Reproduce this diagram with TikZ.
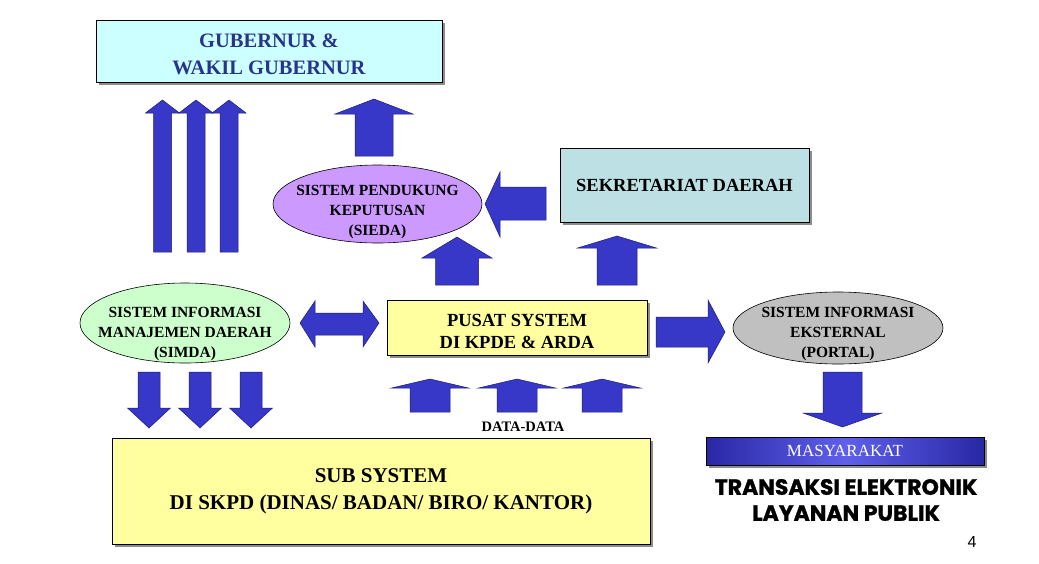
\documentclass[tikz,border=0pt]{standalone}
\usepackage{fontspec}
\setmainfont{Liberation Serif}
\newfontfamily\arialfont{Liberation Sans}
\newfontfamily\heavyfont{Poppins}[BoldFeatures={FakeBold=1.2}]
\usetikzlibrary{shapes.geometric,shadows}
\definecolor{arrowblue}{RGB}{55,55,200}
\definecolor{arrowedge}{RGB}{30,30,120}
\definecolor{gubfill}{RGB}{204,255,255}
\definecolor{gubtext}{RGB}{40,52,140}
\definecolor{sekfill}{RGB}{188,224,228}
\definecolor{yelfill}{RGB}{255,255,160}
\definecolor{siedafill}{RGB}{204,153,255}
\definecolor{simdafill}{RGB}{204,255,204}
\definecolor{portalfill}{RGB}{192,192,192}
\definecolor{masydark}{RGB}{40,40,165}
\definecolor{masylight}{RGB}{95,95,235}
\tikzset{
  box/.style={draw=black, line width=0.8pt, rectangle, inner sep=0pt, align=center,
    font=\bfseries, drop shadow={shadow xshift=3pt, shadow yshift=-3pt, fill=black!45, opacity=1}},
  oval/.style={draw=black, line width=0.6pt, ellipse, inner sep=0pt},
  ovaltext/.style={inner sep=0pt, align=center, font=\bfseries\fontsize{15.5}{20}\selectfont},
  blockarrow/.style={fill=arrowblue, draw=arrowedge, line width=0.5pt, line join=miter},
  plain/.style={inner sep=0pt, align=center}
}
\newcommand\uparrowshape[6]{%
  \filldraw[blockarrow] (#1,#2) -- ({#1+#5},#3) -- ({#1+#6},#3) -- ({#1+#6},#4)
    -- ({#1-#6},#4) -- ({#1-#6},#3) -- ({#1-#5},#3) -- cycle;}
\newcommand\downarrowshape[6]{%
  \filldraw[blockarrow] ({#1-#6},#2) -- ({#1+#6},#2) -- ({#1+#6},#3) -- ({#1+#5},#3)
    -- (#1,#4) -- ({#1-#5},#3) -- ({#1-#6},#3) -- cycle;}
\begin{document}
\begin{tikzpicture}[x=1pt,y=-1pt]
\useasboundingbox (0,0) rectangle (1039,563);
\fill[white] (0,0) rectangle (1039,563);

% boxes
\node[box, fill=gubfill, minimum width=346pt, minimum height=62pt] (gub) at (269,51) {};
\node[plain, text=gubtext, font=\bfseries\fontsize{20.5}{27}\selectfont, yshift=-3pt] (gubtxt) at (gub.center) {GUBERNUR \&\\WAKIL GUBERNUR};
\node[box, fill=sekfill, minimum width=249pt, minimum height=74pt,
  font=\bfseries\fontsize{18.5}{22}\selectfont] (sek) at (684.5,185) {SEKRETARIAT DAERAH};
\node[box, fill=yelfill, minimum width=260pt, minimum height=55pt] (pusat) at (517,327.5) {};
\node[plain, font=\bfseries\fontsize{18.5}{22}\selectfont, yshift=-4pt] (pusattxt) at (pusat.center) {PUSAT SYSTEM\\DI KPDE \& ARDA};
\node[box, fill=yelfill, minimum width=538pt, minimum height=106pt,
  font=\bfseries\fontsize{21}{27}\selectfont] (sub) at (381,491) {SUB SYSTEM\\DI SKPD (DINAS/ BADAN/ BIRO/ KANTOR)};
\node[box, left color=masydark, right color=masydark, middle color=masylight, text=white,
  minimum width=278pt, minimum height=28pt,
  font=\fontsize{17}{20}\selectfont] (masy) at (845,451) {MASYARAKAT};

% ellipses
\node[oval, fill=siedafill, minimum width=209pt, minimum height=78pt] (sieda) at (377.5,204) {};
\node[ovaltext, yshift=-8pt] (siedatxt) at (sieda.center) {SISTEM PENDUKUNG\\KEPUTUSAN\\(SIEDA)};
\node[oval, fill=simdafill, minimum width=210pt, minimum height=80pt] (simda) at (185,323) {};
\node[ovaltext, yshift=-11pt] (simdatxt) at (simda.center) {SISTEM INFORMASI\\MANAJEMEN DAERAH\\(SIMDA)};
\node[oval, fill=portalfill, minimum width=210pt, minimum height=72pt] (portal) at (838,328) {};
\node[ovaltext, yshift=-6pt] (portaltxt) at (portal.center) {SISTEM INFORMASI\\EKSTERNAL\\(PORTAL)};

% labels
\node[plain, font=\bfseries\fontsize{14.5}{17}\selectfont] (data) at (523,427) {DATA-DATA};
\node[plain, font=\heavyfont\bfseries\fontsize{22}{26}\selectfont] (trans) at (846,500) {TRANSAKSI ELEKTRONIK\\LAYANAN PUBLIK};
\node[plain, font=\arialfont\fontsize{16}{18}\selectfont] (pnum) at (972,542) {4};

% block arrows
\uparrowshape{162.5}{100}{113}{252}{17}{9}
\uparrowshape{196}{100}{113}{252}{17}{9}
\uparrowshape{229}{100}{113}{252}{17}{9}
\uparrowshape{374}{99}{114}{156}{39}{19}
\uparrowshape{457}{237}{258}{285}{35}{21.5}
\uparrowshape{617}{236}{248}{285}{39.5}{20}
\uparrowshape{430}{379}{388}{412}{38.5}{20}
\uparrowshape{517}{379}{388}{412}{38.5}{20}
\uparrowshape{602}{379}{388}{412}{38.5}{20}
\downarrowshape{149}{372}{408}{428}{21.5}{11}
\downarrowshape{200}{372}{408}{428}{21.5}{11}
\downarrowshape{251}{372}{408}{428}{21.5}{11}
\downarrowshape{842.5}{372}{413}{427}{39.5}{19.5}
% SEKRETARIAT -> SIEDA
\filldraw[blockarrow] (485,204) -- (500,172) -- (500,187) -- (546,187) -- (546,220) -- (500,220) -- (500,237) -- cycle;
% PUSAT -> PORTAL
\filldraw[blockarrow] (656,317) -- (708,317) -- (708,300) -- (725,332) -- (708,363) -- (708,347) -- (656,347) -- cycle;
% SIMDA <-> PUSAT
\filldraw[blockarrow] (300,323) -- (315,301) -- (315,313) -- (363,313) -- (363,301) -- (379,323) -- (363,347) -- (363,335) -- (315,335) -- (315,347) -- cycle;
\end{tikzpicture}
\end{document}
